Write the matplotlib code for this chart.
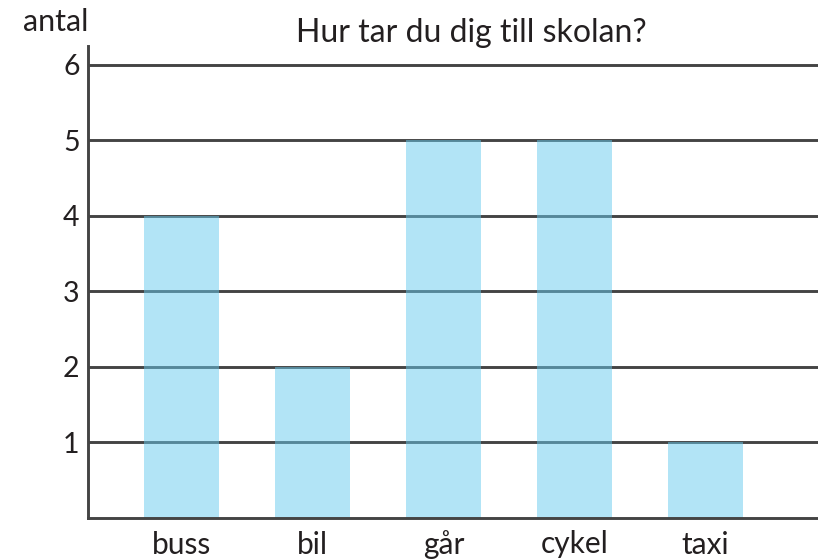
import matplotlib
matplotlib.use("Agg")
import matplotlib.pyplot as plt

categories = ["buss", "bil", "går", "cykel", "taxi"]
values = [4, 2, 5, 5, 1]
yticks = [1, 2, 3, 4, 5, 6]
ytick_labels = ["1", "2", "3", "4", "5", "6"]
title = "Hur tar du dig till skolan?"
ylabel = "antal"

plt.rcParams['font.family'] = ['Lato', 'DejaVu Sans']

W, H = 818, 560
fig = plt.figure(figsize=(W / 100, H / 100), dpi=100)
ax = fig.add_axes([88 / W, 42 / H, (W - 88) / W, (518 - 46) / H])

line_color = "#444444"
text_color = "#231f20"
xs = list(range(len(categories)))
for yv in yticks:
    ax.axhline(yv, color=line_color, lw=2.1, zorder=1)
ax.bar(xs, values, width=0.573, color="#67cbef", alpha=0.5, zorder=2)

ax.set_xlim(-0.718, 4.863)
ax.set_ylim(0, 6.25)
ax.set_yticks(yticks)
ax.set_yticklabels(ytick_labels)
ax.set_xticks(xs)
ax.set_xticklabels(categories)
ax.tick_params(axis='both', length=0, colors=text_color)
ax.tick_params(axis='x', pad=9, labelsize=21.5)
ax.tick_params(axis='y', pad=6, labelsize=20.5)

for s in ["top", "right"]:
    ax.spines[s].set_visible(False)
for s in ["left", "bottom"]:
    ax.spines[s].set_color(line_color)
    ax.spines[s].set_linewidth(2.1)
    ax.spines[s].set_zorder(3)

fig.text(471 / W, 1 - 33 / H, title, ha="center", va="center", fontsize=23, color=text_color)
fig.text(88 / W, 1 - 22 / H, ylabel, ha="right", va="center", fontsize=22, color=text_color)

fig.savefig("out.png", dpi=100)
